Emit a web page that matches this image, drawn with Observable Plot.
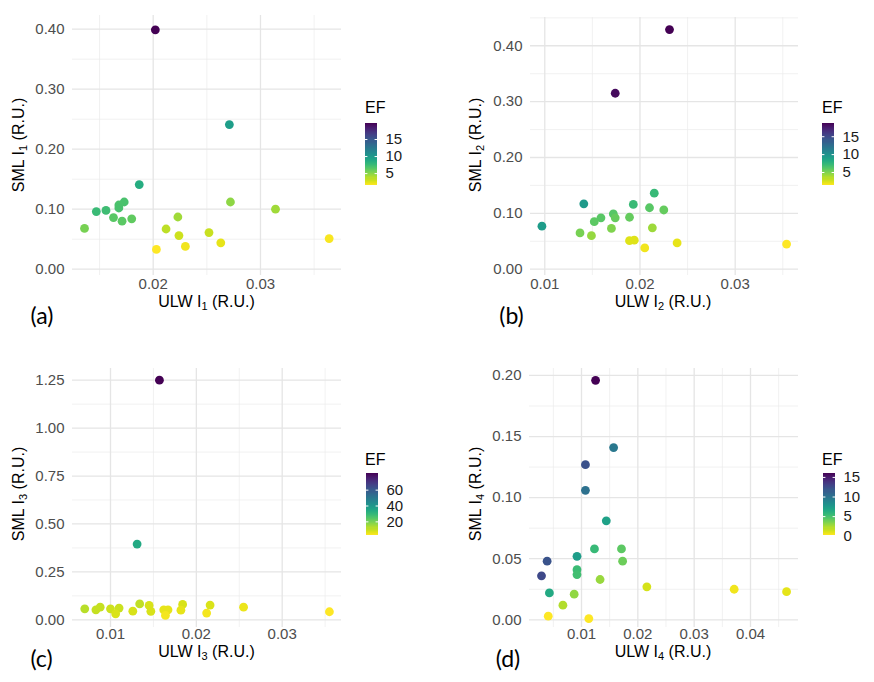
<!DOCTYPE html>
<html><head><meta charset="utf-8">
<script src="https://cdn.jsdelivr.net/npm/d3@7"></script>
<script src="https://cdn.jsdelivr.net/npm/@observablehq/plot@0.6"></script>
<style>
body{margin:0;background:#fff;}
#root{position:relative;width:874px;height:682px;overflow:hidden;font-family:"Liberation Sans",Arial,sans-serif;background:#fff;}
.title{position:absolute;font-size:16px;color:#000;white-space:nowrap;transform:translate(-50%,-50%);line-height:1;}
.ytitle{transform:translate(-50%,-50%) rotate(-90deg);}
.title sub{font-size:11px;vertical-align:-3px;line-height:0;}
.tag{position:absolute;font-family:Lato,"Open Sans",sans-serif;font-size:23px;color:#000;transform:translate(-50%,-50%);line-height:1;}
.ef{position:absolute;font-size:16px;color:#000;line-height:1;}
</style></head><body><div id="root"></div>
<script>
// ---- data ----
const ulw1 = [0.0202,0.0271,0.0187,0.0173,0.0168,0.0168,0.0147,0.0156,0.0163,0.0171,0.0180,0.0136,0.0272,0.0314,0.0223,0.0212,0.0224,0.0230,0.0203,0.0252,0.0263,0.0364];
const sml1 = [0.399,0.241,0.141,0.112,0.107,0.102,0.096,0.098,0.086,0.080,0.084,0.068,0.112,0.100,0.087,0.067,0.056,0.038,0.033,0.061,0.044,0.051];
const ef1  = [19.7,9.6,8.5,6.8,6.7,6.8,7.4,7.2,6.3,6.2,6.0,5.3,4.7,4.2,4.2,3.4,3.0,2.0,1.6,3.1,2.3,1.8];

const ulw2 = [0.0231,0.0174,0.0097,0.0141,0.0215,0.0193,0.0210,0.0225,0.0172,0.0174,0.0159,0.0152,0.0189,0.0170,0.0137,0.0149,0.0213,0.0189,0.0194,0.0205,0.0239,0.0354];
const sml2 = [0.429,0.315,0.077,0.117,0.136,0.116,0.110,0.106,0.099,0.092,0.092,0.085,0.093,0.073,0.065,0.060,0.074,0.051,0.052,0.038,0.047,0.045];
const ef2  = [18.7,18.2,9.2,9.4,7.1,7.0,5.9,5.5,6.0,5.5,5.9,5.8,5.5,4.8,5.0,4.2,4.0,2.3,2.3,1.8,2.1,1.45];

const ulw3 = [0.0157,0.0131,0.0070,0.0083,0.0088,0.0100,0.0110,0.0106,0.0126,0.0134,0.0145,0.0147,0.0162,0.0167,0.0164,0.0184,0.0182,0.0216,0.0212,0.0255,0.0355];
const sml3 = [1.25,0.395,0.057,0.052,0.066,0.057,0.061,0.031,0.045,0.083,0.075,0.044,0.052,0.052,0.023,0.080,0.050,0.077,0.035,0.066,0.042];
const ef3  = [81,34,11.5,10,10,9,9.5,7.5,8,10.5,8,8,6,6,4.5,8,6,7.5,4.5,5.5,3.2];

const ulw4 = [0.0125,0.0157,0.0107,0.0107,0.0144,0.0123,0.0092,0.0171,0.0173,0.0039,0.0029,0.0092,0.0092,0.0133,0.0043,0.0087,0.0067,0.0041,0.0113,0.0216,0.0371,0.0464];
const sml4 = [0.196,0.141,0.127,0.106,0.081,0.058,0.052,0.058,0.048,0.048,0.036,0.041,0.037,0.033,0.022,0.021,0.012,0.003,0.001,0.027,0.025,0.023];
const ef4  = [16.0,9.7,12.1,10.2,7.0,5.4,7.3,4.2,3.8,12.0,12.5,5.3,5.0,2.7,6.5,2.9,2.1,0.3,0.26,1.3,0.6,0.9];

const xTicks1 = [0.02,0.03], yTicks1 = [0,0.1,0.2,0.3,0.4], efTicks1 = [5,10,15];
const xTicks2 = [0.01,0.02,0.03], yTicks2 = [0,0.1,0.2,0.3,0.4], efTicks2 = [5,10,15];
const xTicks3 = [0.01,0.02,0.03], yTicks3 = [0,0.25,0.5,0.75,1.0,1.25], efTicks3 = [20,40,60];
const xTicks4 = [0.01,0.02,0.03,0.04], yTicks4 = [0,0.05,0.1,0.15,0.2], efTicks4 = [0,5,10,15];

// ---- layout ----
const panels = [
  {ulw:ulw1,sml:sml1,ef:ef1,xt:xTicks1,yt:yTicks1,et:efTicks1,sub:"1",tag:"(a)",
   box:[0,0,437,341], m:[15,96,66,72], xd:[0.01248,0.03755], yd:[-0.0105,0.4228], xpad:3,
   tagPos:[42,315], xTitle:[206.5,301.5], yTitle:[18.5,145], leg:[365,123.3,61.7], efPos:[365,100]},
  {ulw:ulw2,sml:sml2,ef:ef2,xt:xTicks2,yt:yTicks2,et:efTicks2,sub:"2",tag:"(b)",
   box:[437,0,437,341], m:[17,76,66,93], xd:[0.0085,0.03665], yd:[-0.0113,0.4506], xpad:3,
   tagPos:[511.5,315], xTitle:[663,301.5], yTitle:[476,145], leg:[822.3,123.3,61.7], efPos:[822,100]},
  {ulw:ulw3,sml:sml3,ef:ef3,xt:xTicks3,yt:yTicks3,et:efTicks3,sub:"3",tag:"(c)",
   box:[0,341,437,341], m:[27,96,55,72], xd:[0.005574,0.036907], yd:[-0.0402,1.311], xpad:1,
   tagPos:[41.5,658], xTitle:[206.5,652], yTitle:[18.5,494], leg:[365.5,473.3,61.7], efPos:[365,452]},
  {ulw:ulw4,sml:sml4,ef:ef4,xt:xTicks4,yt:yTicks4,et:efTicks4,sub:"4",tag:"(d)",
   box:[437,341,437,341], m:[27,76,55,92], xd:[0.00077,0.04852], yd:[-0.0063,0.2057], xpad:1,
   tagPos:[508,658], xTitle:[663,652], yTitle:[476,494], leg:[822.5,473.3,61.7], efPos:[822,452]}
];

const root = document.getElementById("root");
const font = "Liberation Sans, Arial, sans-serif";
const mids = t => { const s = t[1]-t[0]; const out = []; for (let v = t[0]-s/2; v <= t[t.length-1]+s/2+1e-9; v += s) out.push(+v.toFixed(5)); return out; };

function place(el, left, top) { el.style.position = "absolute"; el.style.left = left + "px"; el.style.top = top + "px"; root.appendChild(el); }

for (const p of panels) {
  const [bx, by, bw, bh] = p.box;
  const [mt, mr, mb, ml] = p.m;
  const idx = d3.range(p.ulw.length);
  const colorOpts = {type:"linear", scheme:"viridis", reverse:true, domain:d3.extent(p.ef)};
  const xm = mids(p.xt).filter(v => v > p.xd[0] && v < p.xd[1]);
  const ym = mids(p.yt).filter(v => v > p.yd[0] && v <= p.yd[1]);
  const chart = Plot.plot({
    width: bw, height: bh, marginTop: mt, marginRight: mr, marginBottom: mb, marginLeft: ml,
    style: {background: "transparent", overflow: "visible", fontFamily: font},
    x: {domain: p.xd}, y: {domain: p.yd}, color: colorOpts,
    marks: [
      Plot.gridX(xm, {stroke: "#ebebeb", strokeOpacity: 1, strokeWidth: 0.7}),
      Plot.gridY(ym, {stroke: "#ebebeb", strokeOpacity: 1, strokeWidth: 0.7}),
      Plot.gridX(p.xt, {stroke: "#e5e5e5", strokeOpacity: 1, strokeWidth: 1.3}),
      Plot.gridY(p.yt, {stroke: "#e5e5e5", strokeOpacity: 1, strokeWidth: 1.3}),
      Plot.axisX({ticks: p.xt, tickSize: 0, tickPadding: p.xpad, tickFormat: d3.format(".2f"), fontSize: 15, color: "#4d4d4d", label: null}),
      Plot.axisY({ticks: p.yt, tickSize: 0, tickPadding: 8, tickFormat: d3.format(".2f"), fontSize: 15, color: "#4d4d4d", label: null}),
      Plot.dot(idx, {x: i => p.ulw[i], y: i => p.sml[i], fill: i => p.ef[i], r: 4.4, stroke: null})
    ]
  });
  place(chart, bx, by);

  // legend colourbar
  const [lx, ly, lh] = p.leg;
  const [lo, hi] = d3.extent(p.ef);
  const n = 60, step = (hi - lo) / n;
  const steps = d3.range(n).map(i => lo + step * i);
  const leg = Plot.plot({
    width: 50, height: lh + 20, marginTop: 10, marginBottom: 10, marginLeft: 0, marginRight: 38,
    style: {background: "transparent", overflow: "visible", fontFamily: font},
    x: {domain: [0, 1], axis: null}, y: {domain: [lo, hi], axis: null}, color: colorOpts,
    marks: [
      Plot.rect(steps, {x1: 0, x2: 1, y1: d => d, y2: d => Math.min(hi, d + step * 2), fill: d => d + step / 2, shapeRendering: "crispEdges"}),
      Plot.ruleY(p.et.filter(v => v >= lo && v <= hi), {x1: 0, x2: 0.2, stroke: "white", strokeWidth: 1}),
      Plot.ruleY(p.et.filter(v => v >= lo && v <= hi), {x1: 0.8, x2: 1, stroke: "white", strokeWidth: 1}),
      Plot.text(p.et, {x: 1, y: d => d, dx: 8, textAnchor: "start", fontSize: 15, fill: "#1a1a1a"})
    ]
  });
  place(leg, lx, ly - 10);

  const ef = document.createElement("div"); ef.className = "ef"; ef.textContent = "EF";
  place(ef, p.efPos[0], p.efPos[1]);

  const xt = document.createElement("div"); xt.className = "title";
  xt.innerHTML = `ULW I<sub>${p.sub}</sub> (R.U.)`;
  place(xt, p.xTitle[0], p.xTitle[1]);
  const yt = document.createElement("div"); yt.className = "title ytitle";
  yt.innerHTML = `SML I<sub>${p.sub}</sub> (R.U.)`;
  place(yt, p.yTitle[0], p.yTitle[1]);
  const tg = document.createElement("div"); tg.className = "tag"; tg.textContent = p.tag;
  place(tg, p.tagPos[0], p.tagPos[1]);
}
</script></body></html>
